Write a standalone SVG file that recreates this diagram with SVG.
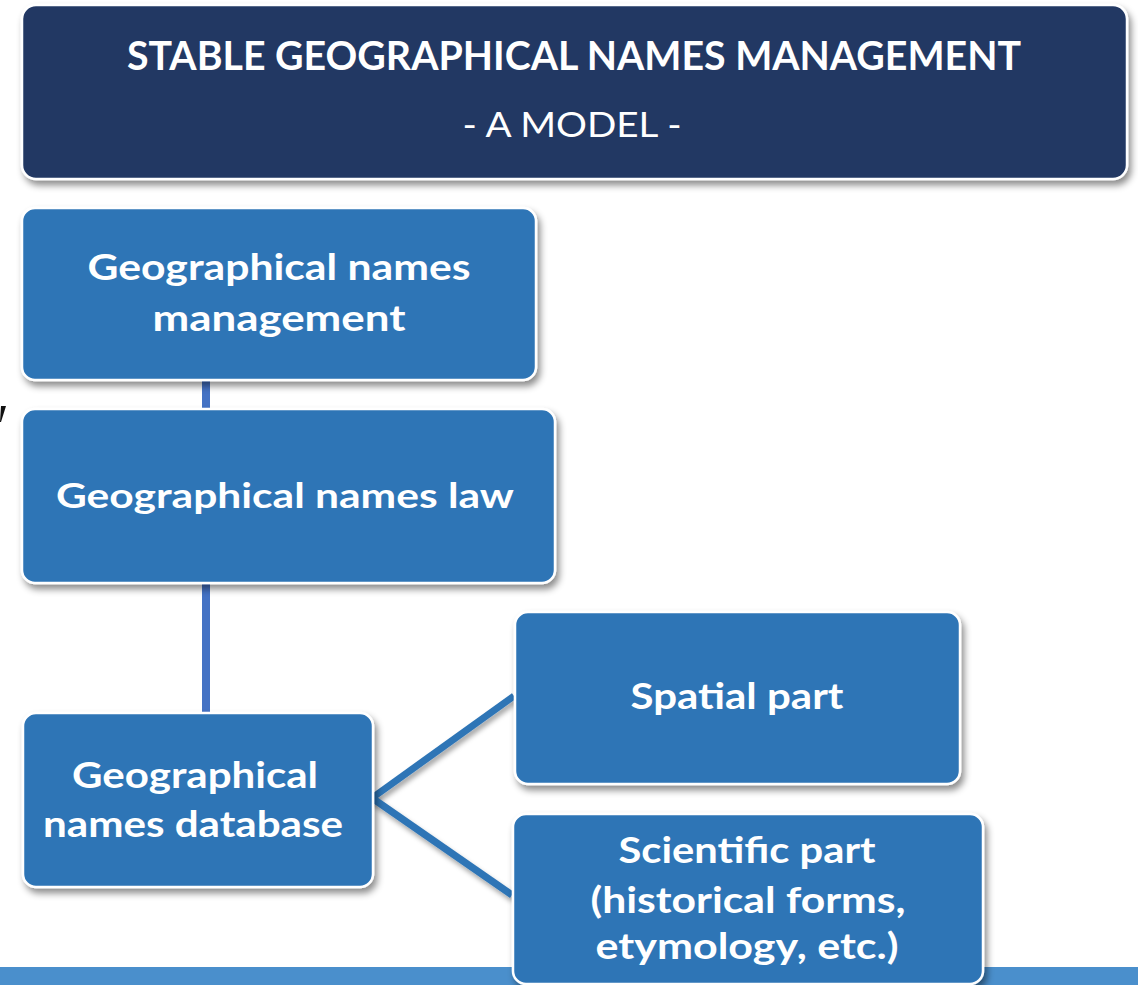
<svg xmlns="http://www.w3.org/2000/svg" width="1138" height="985" viewBox="0 0 1138 985">
  <defs>
    <filter id="shadow" x="-10%" y="-10%" width="130%" height="130%">
      <feDropShadow dx="3" dy="5" stdDeviation="3.5" flood-color="#000" flood-opacity="0.45"/>
    </filter>
    <filter id="lshadow" x="-20%" y="-20%" width="140%" height="140%">
      <feDropShadow dx="2" dy="4" stdDeviation="2.5" flood-color="#000" flood-opacity="0.35"/>
    </filter>
  </defs>
  <style>
    .box { fill: #2E75B6; stroke: #FFFFFF; stroke-width: 2.5; filter: url(#shadow); }
    .hdr { fill: #203864; stroke: #FFFFFF; stroke-width: 2.5; filter: url(#shadow); }
    .t { font-family: Lato, "Liberation Sans", sans-serif; font-weight: bold; fill: #FFFFFF; text-anchor: middle; }
    .sub { font-family: Lato, "Liberation Sans", sans-serif; font-weight: normal; fill: #FFFFFF; text-anchor: middle; }
    .vline { fill: #4472C4; }
    .dline { stroke: #2E75B6; stroke-width: 7; fill: none; stroke-linecap: butt; filter: url(#lshadow); }
  </style>
  <rect x="0" y="0" width="1138" height="985" fill="#FFFFFF"/>
  <!-- bottom bar -->
  <rect x="0" y="967" width="1138" height="18" fill="#4A8FCC"/>
  <!-- stray mark at left edge -->
  <polygon points="1,406 6,406 1,422 0,422" fill="#111111"/>

  <g id="connectors">
    <rect class="vline" x="202" y="378" width="8" height="33"/>
    <rect class="vline" x="202" y="581" width="8" height="133"/>
    <line class="dline" x1="372" y1="798" x2="514" y2="696"/>
    <line class="dline" x1="372" y1="798" x2="512" y2="895"/>
  </g>

  <g id="header">
    <rect class="hdr" x="22" y="5" width="1105" height="174" rx="14"/>
    <text class="t" x="574" y="70" font-size="40" textLength="894" lengthAdjust="spacingAndGlyphs">STABLE GEOGRAPHICAL NAMES MANAGEMENT</text>
    <text class="sub" x="572" y="137" font-size="34" textLength="219" lengthAdjust="spacingAndGlyphs">- A MODEL -</text>
  </g>

  <g id="node-management">
    <rect class="box" x="22" y="208" width="514" height="172" rx="13"/>
    <text class="t" x="279" y="280" font-size="37" textLength="383" lengthAdjust="spacingAndGlyphs">Geographical names</text>
    <text class="t" x="279" y="331" font-size="37" textLength="253" lengthAdjust="spacingAndGlyphs">management</text>
  </g>

  <g id="node-law">
    <rect class="box" x="22" y="409" width="533" height="174" rx="13"/>
    <text class="t" x="285" y="508" font-size="35" textLength="458" lengthAdjust="spacingAndGlyphs">Geographical names law</text>
  </g>

  <g id="node-database">
    <rect class="box" x="23" y="713" width="350" height="174" rx="13"/>
    <text class="t" x="195" y="788" font-size="37" textLength="246" lengthAdjust="spacingAndGlyphs">Geographical</text>
    <text class="t" x="193" y="837" font-size="37" textLength="300" lengthAdjust="spacingAndGlyphs">names database</text>
  </g>

  <g id="node-spatial">
    <rect class="box" x="515" y="612" width="445" height="172" rx="13"/>
    <text class="t" x="737" y="709" font-size="37" textLength="213" lengthAdjust="spacingAndGlyphs">Spatial part</text>
  </g>

  <g id="node-scientific">
    <rect class="box" x="513" y="814" width="470" height="170" rx="13"/>
    <text class="t" x="747" y="863" font-size="37" textLength="257" lengthAdjust="spacingAndGlyphs">Scientific part</text>
    <text class="t" x="748" y="913" font-size="37" textLength="315" lengthAdjust="spacingAndGlyphs">(historical forms,</text>
    <text class="t" x="747" y="959" font-size="37" textLength="303" lengthAdjust="spacingAndGlyphs">etymology, etc.)</text>
  </g>
</svg>
